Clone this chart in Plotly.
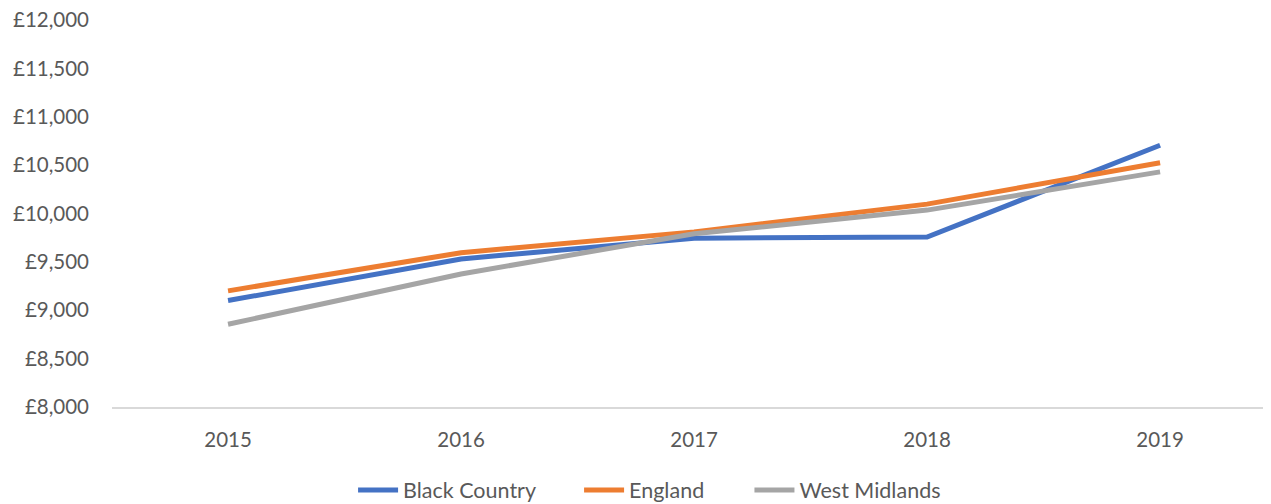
import plotly.graph_objects as go

years = ["2015", "2016", "2017", "2018", "2019"]
black_country = [9100, 9530, 9745, 9757, 10705]
england = [9200, 9595, 9810, 10097, 10525]
west_midlands = [8855, 9375, 9790, 10035, 10430]
y_ticks = [8000, 8500, 9000, 9500, 10000, 10500, 11000, 11500, 12000]
y_tick_labels = ["£" + f"{v:,}" for v in y_ticks]

series = [
    ("Black Country", black_country, "#4472C4", "legend", 0.208),
    ("England", england, "#ED7D31", "legend2", 0.403),
    ("West Midlands", west_midlands, "#A5A5A5", "legend3", 0.550),
]

fig = go.Figure()
for name, vals, color, leg, lx in series:
    fig.add_trace(go.Scatter(
        x=years, y=vals, name=name, mode="lines",
        line=dict(color=color, width=5), legend=leg,
    ))

font_family = "Lato, 'Open Sans', sans-serif"
leg_common = dict(orientation="h", y=-0.2145, yanchor="middle", xanchor="left",
                  font=dict(size=21.5, color="#595959"), itemwidth=40,
                  bgcolor="rgba(0,0,0,0)")
fig.update_layout(
    width=1263, height=496,
    margin=dict(l=104, r=0, t=12, b=97, autoexpand=False),
    paper_bgcolor="white", plot_bgcolor="white",
    font=dict(family=font_family, size=20.5, color="#595959"),
    showlegend=True,
    legend=dict(x=series[0][4], **leg_common),
    legend2=dict(x=series[1][4], **leg_common),
    legend3=dict(x=series[2][4], **leg_common),
    xaxis=dict(
        type="category", range=[-0.498, 4.476], automargin=False,
        showgrid=False, zeroline=False,
        showline=True, linecolor="#D9D9D9", linewidth=1.5,
        ticks="", ticklabelstandoff=14, ticklabeloverflow="allow",
        tickfont=dict(size=20.5, color="#595959"),
    ),
    yaxis=dict(
        range=[8000, 12000], automargin=False,
        tickvals=y_ticks, ticktext=y_tick_labels,
        showgrid=False, zeroline=False, showline=False,
        ticks="", ticklabelstandoff=22, ticklabeloverflow="allow",
        tickfont=dict(size=20.5, color="#595959"),
    ),
)

fig.write_html("out.html")
